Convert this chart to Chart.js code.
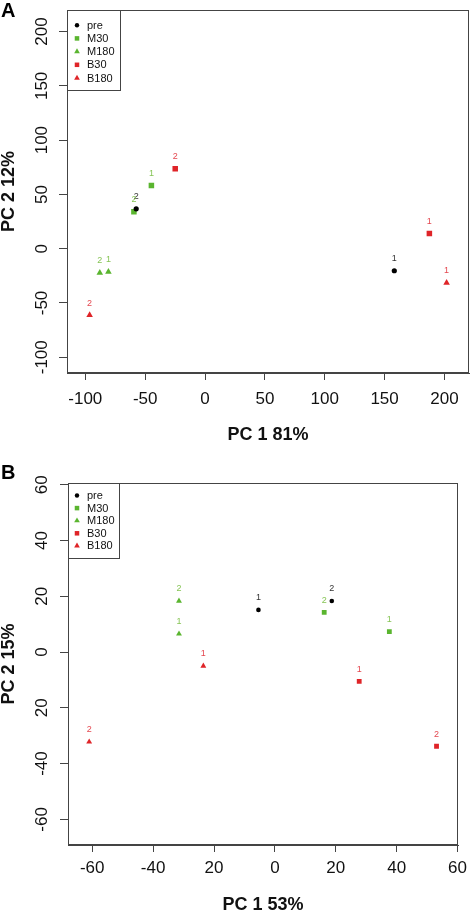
<!DOCTYPE html>
<html><head><meta charset="utf-8">
<script src="https://cdn.jsdelivr.net/npm/chart.js@4"></script>
<style>
html,body{margin:0;padding:0;background:#fff;}
canvas{position:absolute;left:0;}
#cA{top:0;}
#cB{top:455px;}
</style></head><body>
<canvas id="cA" width="473" height="455"></canvas>
<canvas id="cB" width="473" height="455"></canvas>
<script>
// ---- shared categories ----
const seriesNames = ["pre", "M30", "M180", "B30", "B180"];
const pointNames = ["1", "2"];

// ---- Panel A data (x = PC1, y = PC2) ----
const A_pre  = [[158.1, -20.3], [-57.5, 36.7]];
const A_M30  = [[-44.8, 58.3], [-59.4, 34.0]];
const A_M180 = [[-80.7, -21.3], [-87.9, -22.2]];
const A_B30  = [[187.4, 14.1], [-24.9, 73.6]];
const A_B180 = [[201.8, -31.4], [-96.4, -61.1]];
const A_xTicks = [-100, -50, 0, 50, 100, 150, 200];
const A_xTickLabels = ["-100", "-50", "0", "50", "100", "150", "200"];
const A_yTicks = [-100, -50, 0, 50, 100, 150, 200];
const A_yTickLabels = ["-100", "-50", "0", "50", "100", "150", "200"];
const A_xTitle = "PC 1 81%";
const A_yTitle = "PC 2 12%";

// ---- Panel B data ----
const B_pre  = [[-5.4, 15.1], [18.7, 18.3]];
const B_M30  = [[37.6, 7.3], [16.2, 14.2]];
const B_M180 = [[-31.5, 6.5], [-31.5, 18.3]];
const B_B30  = [[27.7, -10.5], [53.1, -33.8]];
const B_B180 = [[-23.5, -5.0], [-61.0, -32.2]];
const B_xTicks = [-60, -40, -20, 0, 20, 40, 60];
const B_xTickLabels = ["-60", "-40", "20", "0", "20", "40", "60"];
const B_yTicks = [-60, -40, -20, 0, 20, 40, 60];
const B_yTickLabels = ["-60", "-40", "20", "0", "20", "40", "60"];
const B_xTitle = "PC 1 53%";
const B_yTitle = "PC 2 15%";

// ---- styles ----
const FONT = '"Liberation Sans", Arial, Helvetica, sans-serif';
Chart.defaults.font.family = FONT;
const styleOf = {
  pre:  {shape: 'circle',   color: '#000000', label: '#333333'},
  M30:  {shape: 'rect',     color: '#5ab52f', label: '#86c455'},
  M180: {shape: 'triangle', color: '#5ab52f', label: '#86c455'},
  B30:  {shape: 'rect',     color: '#df2428', label: '#e4474f'},
  B180: {shape: 'triangle', color: '#df2428', label: '#e4474f'}
};

function makePanel(id, p) {
  const datasets = p.series.map((pts, si) => {
    const name = seriesNames[si];
    const st = styleOf[name];
    return {
      label: name,
      data: pts.map(q => ({x: q[0], y: q[1]})),
      pointStyle: st.shape,
      pointRadius: p.radius[st.shape],
      pointBackgroundColor: st.color,
      pointBorderColor: st.color,
      pointBorderWidth: 0,
      labelColor: st.label,
      showLine: false
    };
  });

  const plugin = {
    id: 'rstyle' + id,
    afterDraw(chart) {
      const ctx = chart.ctx, ca = chart.chartArea;
      const ys = chart.scales.y;
      ctx.save();
      // box
      ctx.strokeStyle = '#444';
      ctx.lineWidth = 1;
      ctx.strokeRect(Math.round(ca.left) + 0.5, Math.round(ca.top) + 0.5,
                     Math.round(ca.right - ca.left) - 1, Math.round(ca.bottom - ca.top) - 1);
      // y tick labels rotated
      ctx.fillStyle = '#111';
      ctx.font = '17px ' + FONT;
      ctx.textAlign = 'center';
      ctx.textBaseline = 'middle';
      p.yTicks.forEach((v, i) => {
        const py = ys.getPixelForValue(v);
        ctx.save();
        ctx.translate(p.yLabelX, py);
        ctx.rotate(-Math.PI / 2);
        ctx.fillText(p.yTickLabels[i], 0, 1);
        ctx.restore();
      });
      // point labels
      ctx.font = '9px ' + FONT;
      chart.data.datasets.forEach((ds, di) => {
        const meta = chart.getDatasetMeta(di);
        ctx.fillStyle = ds.labelColor;
        meta.data.forEach((el, i) => {
          ctx.fillText(pointNames[i], el.x, el.y - p.labelOffset);
        });
      });
      // legend
      const L = p.legend;
      ctx.fillStyle = '#fff';
      ctx.fillRect(ca.left + 0.5, ca.top + 0.5, L.w, L.h);
      ctx.strokeStyle = '#444';
      ctx.strokeRect(Math.round(ca.left) + 0.5, Math.round(ca.top) + 0.5, L.w, L.h);
      ctx.font = '11px ' + FONT;
      ctx.textAlign = 'left';
      chart.data.datasets.forEach((ds, di) => {
        const cy = ca.top + L.first + di * L.step;
        ctx.fillStyle = ds.pointBackgroundColor;
        ctx.strokeStyle = ds.pointBackgroundColor;
        ctx.lineWidth = 0.01;
        Chart.helpers.drawPoint(ctx, {
          pointStyle: ds.pointStyle,
          radius: L.radius[ds.pointStyle],
          borderWidth: 0
        }, ca.left + L.mx, cy);
        ctx.fillStyle = '#111';
        ctx.textBaseline = 'middle';
        ctx.fillText(ds.label, ca.left + L.tx, cy + 0.5);
      });
      // panel letter
      ctx.fillStyle = '#000';
      ctx.font = 'bold 20px ' + FONT;
      ctx.textBaseline = 'alphabetic';
      ctx.fillText(p.letter, 1, p.letterY);
      ctx.restore();
    }
  };

  return new Chart(document.getElementById(id), {
    type: 'scatter',
    data: {datasets},
    options: {
      responsive: false,
      animation: false,
      events: [],
      layout: {padding: {top: p.top, right: p.right, left: 0, bottom: 0}},
      plugins: {legend: {display: false}, tooltip: {enabled: false}},
      scales: {
        x: {
          type: 'linear', min: p.xMin, max: p.xMax,
          afterBuildTicks: s => { s.ticks = p.xTicks.map(v => ({value: v})); },
          afterFit: s => { s.height = p.xHeight; },
          ticks: {callback: (v, i) => p.xTickLabels[i], font: {size: 17}, color: '#111',
                  padding: p.xPad, autoSkip: false, maxRotation: 0, minRotation: 0},
          grid: {drawOnChartArea: false, tickLength: 7, color: '#444', tickColor: '#444', lineWidth: 1},
          border: {display: true, color: '#444'},
          title: {display: true, text: p.xTitle, color: '#111',
                  font: {size: 18, weight: 'bold', lineHeight: p.xTitleLH},
                  padding: {top: 0, bottom: p.xTitlePad}}
        },
        y: {
          type: 'linear', min: p.yMin, max: p.yMax,
          afterBuildTicks: s => { s.ticks = p.yTicks.map(v => ({value: v})); },
          afterFit: s => { s.width = p.yWidth; },
          ticks: {callback: () => '', font: {size: 17}, padding: 0},
          grid: {drawOnChartArea: false, tickLength: 8, color: '#444', tickColor: '#444', lineWidth: 1},
          border: {display: true, color: '#444'},
          title: {display: true, text: p.yTitle, color: '#111',
                  font: {size: 18, weight: 'bold', lineHeight: 1},
                  padding: {top: 0, bottom: 0}}
        }
      }
    },
    plugins: [plugin]
  });
}

makePanel('cA', {
  series: [A_pre, A_M30, A_M180, A_B30, A_B180],
  xMin: -115.3, xMax: 220.5, yMin: -114.5, yMax: 219.7,
  xTicks: A_xTicks, xTickLabels: A_xTickLabels,
  yTicks: A_yTicks, yTickLabels: A_yTickLabels,
  xTitle: A_xTitle, yTitle: A_yTitle,
  top: 10, right: 1, yWidth: 67, xHeight: 82,
  xPad: 9, xTitleLH: 1, xTitlePad: 11, yLabelX: 41.5,
  radius: {circle: 2.6, rect: 3.9, triangle: 3.8},
  labelOffset: 12,
  legend: {w: 53, h: 80, first: 15, step: 13.2, mx: 10, tx: 20,
           radius: {circle: 2.2, rect: 3.2, triangle: 3.3}},
  letter: 'A', letterY: 17
});

makePanel('cB', {
  series: [B_pre, B_M30, B_M180, B_B30, B_B180],
  xMin: -67.96, xMax: 60.2, yMin: -69.2, yMax: 60.6,
  xTicks: B_xTicks, xTickLabels: B_xTickLabels,
  yTicks: B_yTicks, yTickLabels: B_yTickLabels,
  xTitle: B_xTitle, yTitle: B_yTitle,
  top: 28, right: 3.5, yWidth: 68, xHeight: 65,
  xPad: 6, xTitleLH: 0.6, xTitlePad: 0, yLabelX: 41,
  radius: {circle: 2.3, rect: 3.4, triangle: 3.4},
  labelOffset: 12,
  legend: {w: 51, h: 75, first: 12.5, step: 12.6, mx: 9, tx: 19,
           radius: {circle: 2.2, rect: 3.2, triangle: 3.3}},
  letter: 'B', letterY: 24
});
</script>
</body></html>
